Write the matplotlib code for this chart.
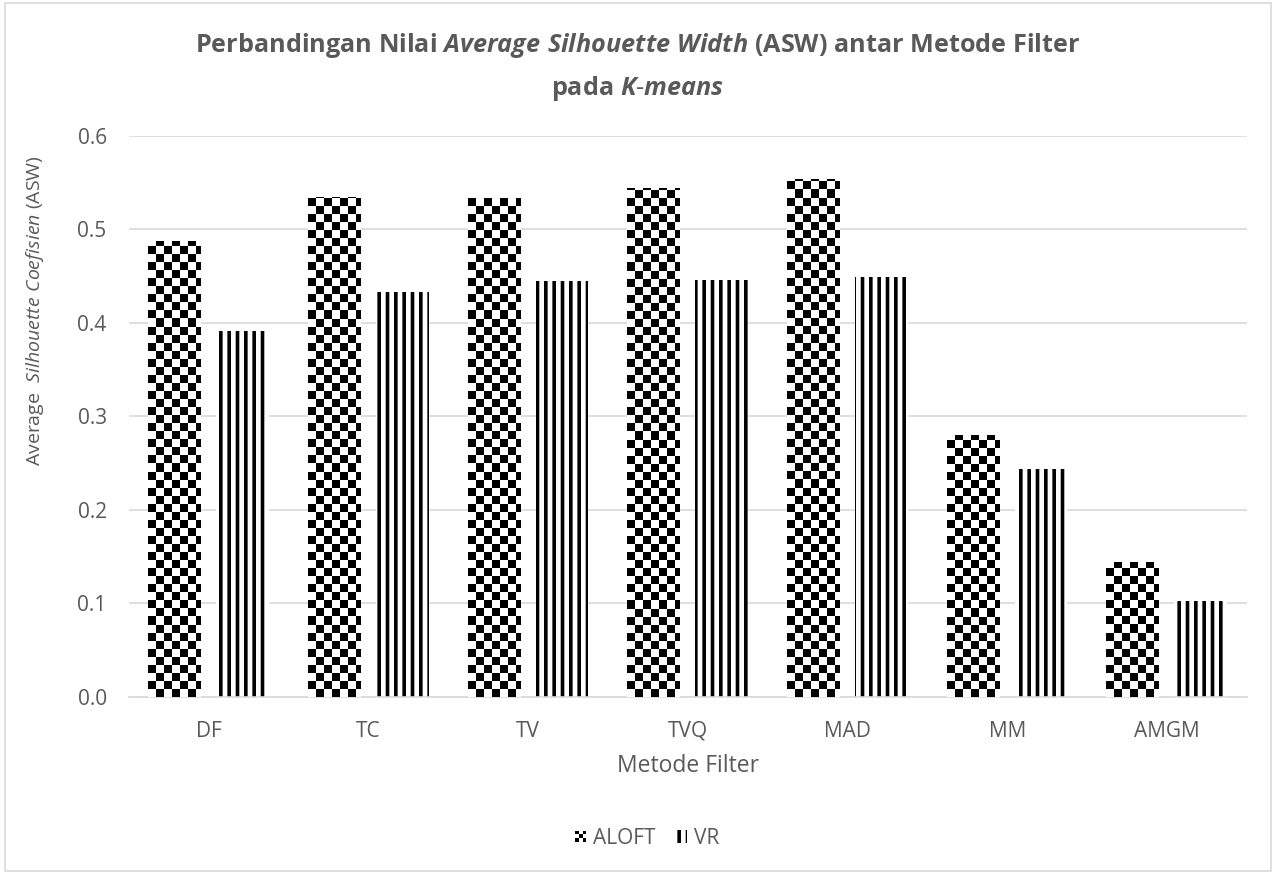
# Perbandingan ASW antar metode filter pada K-means
import numpy as np
import matplotlib.pyplot as plt
from matplotlib.colors import ListedColormap
from matplotlib.legend_handler import HandlerBase
from matplotlib.patches import Rectangle, Patch

fnt = 'Open Sans'
plt.rcParams['font.family'] = [fnt, 'DejaVu Sans']
plt.rcParams['mathtext.fontset'] = 'custom'
plt.rcParams['mathtext.rm'] = fnt
plt.rcParams['mathtext.it'] = fnt + ':italic'
plt.rcParams['mathtext.bf'] = fnt + ':bold'
plt.rcParams['mathtext.bfit'] = fnt + ':italic:bold'
plt.rcParams['hatch.linewidth'] = 2.6

# data
methods = ["DF", "TC", "TV", "TVQ", "MAD", "MM", "AMGM"]
aloft = [0.488, 0.535, 0.534, 0.544, 0.554, 0.280, 0.144]
vr = [0.391, 0.433, 0.445, 0.446, 0.449, 0.244, 0.103]

grey = "#595959"

fig = plt.figure(figsize=(12.76, 8.74), dpi=100)
ax = fig.add_axes([0.101, 0.2025, 0.876, 0.642])

x = np.arange(len(methods))
w = 0.33
off = 0.213

bars_a = ax.bar(x - off, aloft, w, color="white", edgecolor="none", zorder=2)
bars_v = ax.bar(x + off, vr, w, color="white", edgecolor="black", linewidth=0,
                hatch="||", zorder=2)

# checkerboard fill for ALOFT
cmap = ListedColormap(["white", "black"])
cx, cy = 0.05, 0.0086
for b in bars_a:
    x0 = b.get_x()
    h = b.get_height()
    nx = int(np.ceil(b.get_width() / cx)) + 1
    ny = int(np.ceil(h / cy)) + 1
    img = (np.add.outer(np.arange(ny), np.arange(nx)) % 2)
    im = ax.imshow(img, cmap=cmap, interpolation="nearest", aspect="auto",
                   origin="lower", extent=(x0, x0 + nx * cx, 0, ny * cy), zorder=3)
    im.set_clip_path(b)

ax.set_xlim(-0.5, len(methods) - 0.5)
ax.set_ylim(0, 0.6)
ax.set_yticks(np.arange(0, 0.61, 0.1))
ax.set_yticklabels(["%.1f" % v for v in np.arange(0, 0.61, 0.1)])
ax.set_xticks(x)
ax.set_xticklabels(methods)
ax.tick_params(length=0, labelsize=15, labelcolor=grey)
ax.tick_params(axis="x", pad=17)
ax.tick_params(axis="y", pad=16)
ax.grid(axis="y", color="#d9d9d9", lw=1.2, zorder=0)
ax.set_axisbelow(True)
for s in ["top", "right", "left"]:
    ax.spines[s].set_visible(False)
ax.spines["bottom"].set_color("#d9d9d9")
ax.spines["bottom"].set_linewidth(1.2)

ax.set_xlabel("Metode Filter", fontsize=16.5, color=grey, labelpad=9)
ax.set_ylabel(r"Average  $\mathit{Silhouette\ Coefisien}$ (ASW)", fontsize=14,
              color=grey)
ax.yaxis.set_label_coords(-0.074, 0.688)

fig.text(0.5, 0.948,
         r"Perbandingan Nilai $\mathbfit{Average\ Silhouette\ Width}$ (ASW) antar Metode Filter",
         ha="center", va="center", fontsize=18.2, fontweight="bold", color=grey)
fig.text(0.5, 0.899, r"pada $\mathbfit{K\text{-}means}$",
         ha="center", va="center", fontsize=18.2, fontweight="bold", color=grey)


class CheckerHandler(HandlerBase):
    def create_artists(self, legend, orig_handle, xdescent, ydescent,
                       width, height, fontsize, trans):
        n = 3
        s = min(width, height) / n
        x0 = -xdescent + (width - n * s) / 2
        y0 = -ydescent + (height - n * s) / 2
        arts = []
        for i in range(n):
            for j in range(n):
                if (i + j) % 2 == 0:
                    arts.append(Rectangle((x0 + i * s, y0 + j * s), s, s,
                                          facecolor="black", edgecolor="none",
                                          transform=trans))
        return arts


h_a = Patch(facecolor="white")
h_v = Patch(facecolor="white", edgecolor="black", linewidth=0, hatch="||")
fig.legend([h_a, h_v], ["ALOFT", "VR"], loc="center", bbox_to_anchor=(0.507, 0.041),
           ncol=2, frameon=False, fontsize=15, labelcolor=grey,
           handlelength=0.55, handleheight=0.55, handletextpad=0.3, columnspacing=1.0,
           handler_map={h_a: CheckerHandler()})

fig.patches.append(Rectangle((0.004, 0.003), 0.992, 0.994, transform=fig.transFigure,
                             fill=False, edgecolor="#d9d9d9", lw=1.2))

plt.savefig("out.png", dpi=100)
